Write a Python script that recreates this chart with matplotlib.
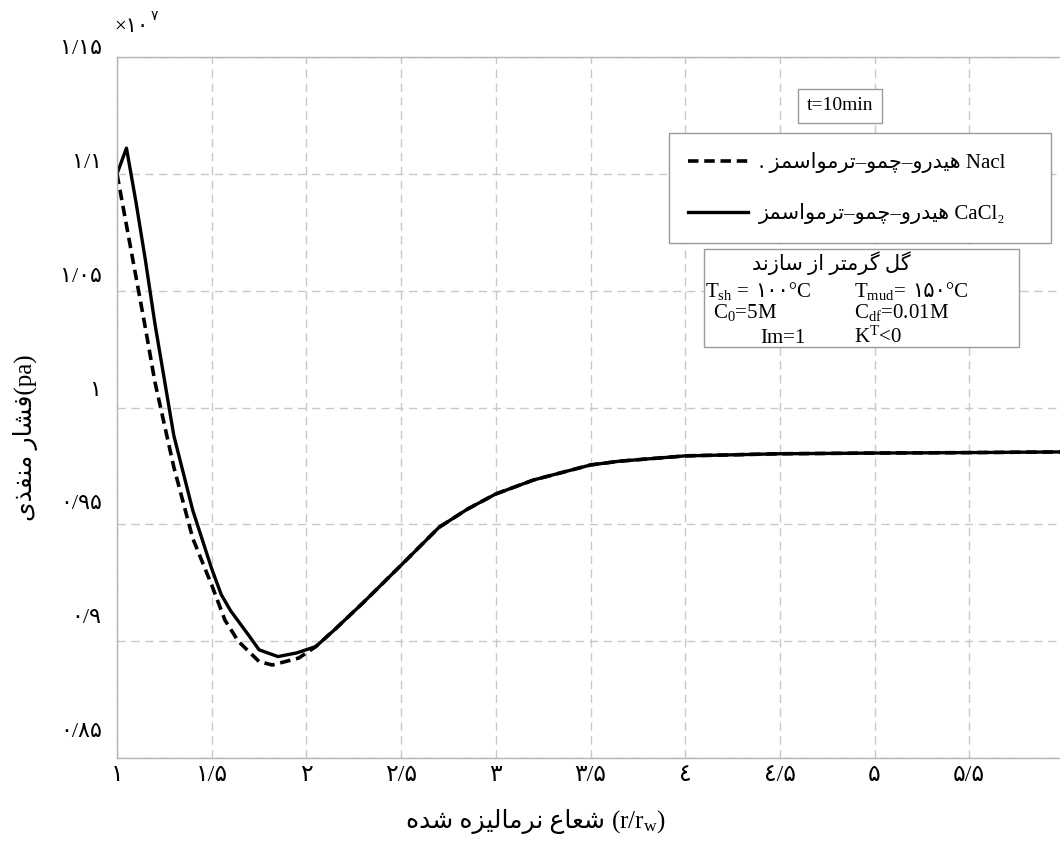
import numpy as np
import matplotlib
matplotlib.use('Agg')
from matplotlib import pyplot as plt
from matplotlib import transforms
from matplotlib.patches import Rectangle

W, H = 1060, 861

# r/rw and pore pressure (x1e7 Pa)
x_cacl2 = [1.0, 1.05, 1.1, 1.15, 1.2, 1.3, 1.4, 1.5, 1.55, 1.6, 1.7, 1.75, 1.85, 1.95, 2.05,
           2.15, 2.3, 2.5, 2.7, 2.85, 3.0, 3.2, 3.5, 3.65, 4.0, 4.5, 5.0, 5.5, 6.0]
p_cacl2 = [1.100, 1.111, 1.088, 1.063, 1.036, 0.988, 0.956, 0.931, 0.920, 0.913, 0.902, 0.8963,
           0.8934, 0.895, 0.8977, 0.905, 0.9165, 0.9325, 0.9487, 0.9565, 0.963, 0.969, 0.9754,
           0.977, 0.9793, 0.9802, 0.9805, 0.9807, 0.981]

x_nacl = [1.0, 1.05, 1.1, 1.15, 1.2, 1.3, 1.4, 1.5, 1.57, 1.64, 1.75, 1.82, 1.96, 2.05,
          2.15, 2.3, 2.5, 2.7, 2.85, 3.0, 3.2, 3.5, 3.65, 4.0, 4.5, 5.0, 5.5, 6.0]
p_nacl = [1.100, 1.078, 1.056, 1.034, 1.011, 0.9745, 0.944, 0.924, 0.909, 0.900, 0.8913, 0.8898,
          0.8928, 0.8977, 0.905, 0.9165, 0.9325, 0.9487, 0.9565, 0.963, 0.969, 0.9754,
          0.977, 0.9793, 0.9802, 0.9805, 0.9807, 0.981]

xticks = [1, 1.5, 2, 2.5, 3, 3.5, 4, 4.5, 5, 5.5, 6]
xtick_labels = ['۱', '۱/۵', '۲', '۲/۵', '۳', '۳/۵', '٤', '٤/۵', '۵', '۵/۵', '۶']
yticks = [0.85, 0.9, 0.95, 1.0, 1.05, 1.1, 1.15]
ytick_labels = ['۰/۸۵', '۰/۹', '۰/۹۵', '۱', '۱/۰۵', '۱/۱', '۱/۱۵']

# matplotlib has no arabic shaping -> presentation forms by hand (iso, fin, ini, med)
FORMS = {
    '\u0627': ('\ufe8d', '\ufe8e', None, None),
    '\u062a': ('\ufe95', '\ufe96', '\ufe97', '\ufe98'),
    '\u062f': ('\ufea9', '\ufeaa', None, None),
    '\u0630': ('\ufeab', '\ufeac', None, None),
    '\u0631': ('\ufead', '\ufeae', None, None),
    '\u0632': ('\ufeaf', '\ufeb0', None, None),
    '\u0633': ('\ufeb1', '\ufeb2', '\ufeb3', '\ufeb4'),
    '\u0634': ('\ufeb5', '\ufeb6', '\ufeb7', '\ufeb8'),
    '\u0639': ('\ufec9', '\ufeca', '\ufecb', '\ufecc'),
    '\u0641': ('\ufed1', '\ufed2', '\ufed3', '\ufed4'),
    '\u0644': ('\ufedd', '\ufede', '\ufedf', '\ufee0'),
    '\u0645': ('\ufee1', '\ufee2', '\ufee3', '\ufee4'),
    '\u0646': ('\ufee5', '\ufee6', '\ufee7', '\ufee8'),
    '\u0647': ('\ufee9', '\ufeea', '\ufeeb', '\ufeec'),
    '\u0648': ('\ufeed', '\ufeee', None, None),
    '\u06cc': ('\ufbfc', '\ufbfd', '\ufbfe', '\ufbff'),
    '\u064a': ('\ufbfc', '\ufbfd', '\ufbfe', '\ufbff'),
    '\u0686': ('\ufb7a', '\ufb7b', '\ufb7c', '\ufb7d'),
    '\u06af': ('\ufb92', '\ufb93', '\ufb94', '\ufb95'),
}

def fa(s):
    out = []
    for i, c in enumerate(s):
        if c not in FORMS:
            out.append(c)
            continue
        prev = s[i-1] if i > 0 else ''
        nxt = s[i+1] if i + 1 < len(s) else ''
        jp = prev in FORMS and FORMS[prev][2] is not None
        jn = nxt in FORMS and FORMS[c][2] is not None
        iso, fin, ini, med = FORMS[c]
        if jp and jn:
            out.append(med)
        elif jp:
            out.append(fin)
        elif jn:
            out.append(ini)
        else:
            out.append(iso)
    return ''.join(reversed(out))

plt.rcParams['font.family'] = ['Liberation Serif', 'DejaVu Sans']
plt.rcParams['mathtext.fontset'] = 'custom'
plt.rcParams['mathtext.rm'] = 'Liberation Serif'
plt.rcParams['mathtext.it'] = 'Liberation Serif:italic'

fig = plt.figure(figsize=(W/100, H/100), dpi=100)
ax = fig.add_axes([117/W, 1-758/H, 947/W, 701/H])

def ftext(x, y, s, **kw):
    return fig.text(x/W, 1-y/H, s, **kw)

ax.plot(x_nacl, p_nacl, color='black', lw=2.6, linestyle=(0, (2.9, 1.6)),
        label='. ' + fa('هیدرو–چمو–ترمواسمز') + ' Nacl')
ax.plot(x_cacl2, p_cacl2, color='black', lw=2.4,
        label=fa('هیدرو–چمو–ترمواسمز') + ' CaCl₂')

ax.set_xlim(1, 6)
ax.set_ylim(0.85, 1.15)
ax.set_xticks(xticks)
ax.set_xticklabels(xtick_labels, fontsize=17)
ax.set_yticks(yticks)
ax.set_yticklabels(ytick_labels, fontsize=16)
ax.tick_params(length=0)
ax.tick_params(axis='x', pad=5)
ax.tick_params(axis='y', pad=11)
ax.grid(True, color='#c8c8c8', lw=1.0, linestyle=(0, (6, 4)))
for sp in ax.spines.values():
    sp.set_color('#b4b4b4')
    sp.set_linewidth(1.0)

# y labels in the picture sit above their grid lines
for v, lab in zip(yticks, ax.get_yticklabels()):
    off = (10 + 18 * (1.15 - v) / 0.3) / 100
    lab.set_transform(lab.get_transform() + transforms.ScaledTranslation(0, off, fig.dpi_scale_trans))

leg = ax.legend(loc='upper left', bbox_to_anchor=(669/W, 1-142/H, 382/W, 0.01),
                bbox_transform=fig.transFigure, mode='expand', borderaxespad=0,
                fontsize=15, handlelength=2.9, handletextpad=0.5, labelspacing=1.45,
                borderpad=0.9, fancybox=False, framealpha=1, edgecolor='#9a9a9a')
leg.get_frame().set_linewidth(1.0)

# parameter box
fig.add_artist(Rectangle((704/W, 1-347/H), 315/W, 98/H, transform=fig.transFigure,
                         facecolor='white', edgecolor='#9a9a9a', lw=1.0, zorder=3))
kw = dict(fontsize=15, zorder=4)
ftext(831, 263, fa('گل گرمتر از سازند'), ha='center', va='center', **kw)
ftext(705, 297, 'T$_{\\mathrm{sh}}$ =', va='baseline', **kw)
ftext(755, 297, '۱۰۰°C', va='baseline', **kw)
ftext(854, 297, 'T$_{\\mathrm{mud}}$=', va='baseline', **kw)
ftext(912, 297, '۱۵۰°C', va='baseline', **kw)
ftext(713, 318, 'C$_{\\mathrm{0}}$=5M', va='baseline', **kw)
ftext(854, 318, 'C$_{\\mathrm{df}}$=0.01M', va='baseline', **kw)
ftext(760, 343, 'Im=1', va='baseline', **kw)
ftext(854, 343, 'K$^{\\mathrm{T}}$<0', va='baseline', **kw)

ftext(840, 106, 't=10min', ha='center', va='center', fontsize=14, zorder=4,
      bbox=dict(boxstyle='square,pad=0.45', fc='white', ec='#9a9a9a', lw=1.0))

# exponent
ftext(114, 32, '×۱۰', va='baseline', fontsize=15)
ftext(151, 20, '۷', va='baseline', fontsize=10)

# axis titles
ftext(25, 438, fa('فشار منفذی') + '(pa)', rotation=90, ha='center', va='center', fontsize=18)
ftext(605, 822, fa('شعاع نرمالیزه شده'), ha='right', va='center', fontsize=18)
ftext(611, 822, '(r/r$_{\\mathrm{w}}$)', ha='left', va='center', fontsize=18)

fig.savefig('out.png', dpi=100)
